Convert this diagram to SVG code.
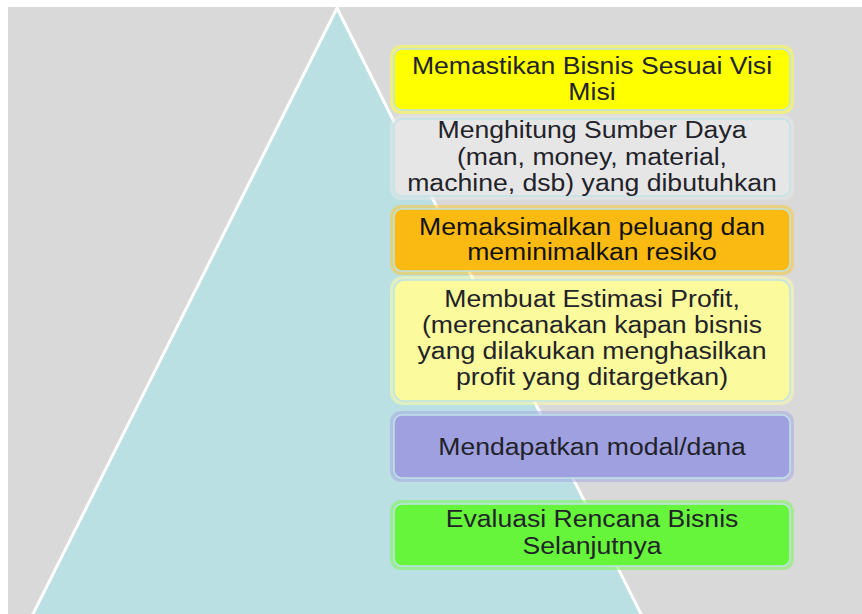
<svg xmlns="http://www.w3.org/2000/svg" width="862" height="614" viewBox="0 0 862 614">
<defs>
<style>
.t{font-family:"Liberation Sans",Arial,sans-serif;font-size:24.5px;fill:#222229;text-anchor:middle}
.glow{stroke-width:4;fill:none;opacity:0.55}
.edge{stroke:#bfe3e6;stroke-width:1.5}
</style>
</defs>
<rect x="0" y="0" width="862" height="614" fill="#ffffff"/>
<rect x="8" y="7" width="854" height="607" fill="#d9d9d9"/>
<polygon id="pyramid" points="337,8 642,616 32,616" fill="#bae0e3" stroke="#ffffff" stroke-width="3"/>
<g id="n1">
<rect x="392" y="47" width="400" height="65" rx="9" class="glow" stroke="#ffff40"/>
<rect x="394" y="49" width="396" height="61" rx="8" fill="#ffff00" class="edge"/>
<g transform="matrix(1.086 0 0 1 -50.9 0)">
<text class="t" x="592" y="74">Memastikan Bisnis Sesuai Visi</text>
<text class="t" x="592" y="100">Misi</text>
</g>
</g>
<g id="n2">
<rect x="392" y="117" width="400" height="81" rx="9" class="glow" stroke="#e8e8e8"/>
<rect x="394" y="119" width="396" height="77" rx="8" fill="#e6e6e6" class="edge"/>
<g transform="matrix(1.086 0 0 1 -50.9 0)">
<text class="t" x="592" y="138">Menghitung Sumber Daya</text>
<text class="t" x="592" y="165">(man, money, material,</text>
<text class="t" x="592" y="191">machine, dsb) yang dibutuhkan</text>
</g>
</g>
<g id="n3">
<rect x="392" y="207" width="400" height="66" rx="9" class="glow" stroke="#fcc838"/>
<rect x="394" y="209" width="396" height="62" rx="8" fill="#fbba12" class="edge"/>
<g transform="matrix(1.086 0 0 1 -50.9 0)">
<text class="t" x="592" y="235" style="fill:#111">Memaksimalkan peluang dan</text>
<text class="t" x="592" y="260" style="fill:#111">meminimalkan resiko</text>
</g>
</g>
<g id="n4">
<rect x="392" y="278" width="400" height="125" rx="11" class="glow" stroke="#fcfba8"/>
<rect x="394" y="280" width="396" height="121" rx="10" fill="#fbfa9c" class="edge"/>
<g transform="matrix(1.086 0 0 1 -50.9 0)">
<text class="t" x="592" y="307">Membuat Estimasi Profit,</text>
<text class="t" x="592" y="333">(merencanakan kapan bisnis</text>
<text class="t" x="592" y="359">yang dilakukan menghasilkan</text>
<text class="t" x="592" y="385">profit yang ditargetkan)</text>
</g>
</g>
<g id="n5">
<rect x="392" y="413" width="400" height="67" rx="9" class="glow" stroke="#a8a9e4"/>
<rect x="394" y="415" width="396" height="63" rx="8" fill="#9fa0e0" class="edge"/>
<g transform="matrix(1.086 0 0 1 -50.9 0)">
<text class="t" x="592" y="455">Mendapatkan modal/dana</text>
</g>
</g>
<g id="n6">
<rect x="392" y="502" width="400" height="66" rx="9" class="glow" stroke="#7cf558"/>
<rect x="394" y="504" width="396" height="62" rx="8" fill="#66f53a" class="edge"/>
<g transform="matrix(1.086 0 0 1 -50.9 0)">
<text class="t" x="592" y="527">Evaluasi Rencana Bisnis</text>
<text class="t" x="592" y="554">Selanjutnya</text>
</g>
</g>
<g id="connectors"/>
</svg>
